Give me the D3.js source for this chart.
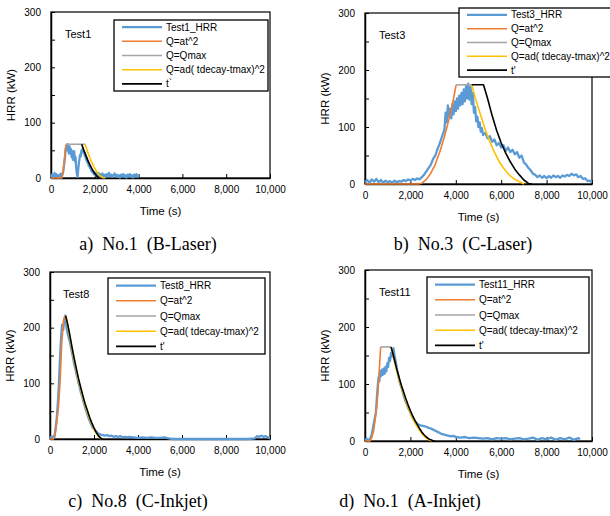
<!DOCTYPE html>
<html>
<head>
<meta charset="utf-8">
<script src="https://cdn.jsdelivr.net/npm/d3@7"></script>
<style>
  body { margin: 0; background: #fff; }
  svg { display: block; }
</style>
</head>
<body>
<div id="container"></div>
<script>
let w = 610;
let h = 516;

// ---- data (time in s, HRR in kW) ----
let xTicks = [0, 2000, 4000, 6000, 8000, 10000];
let yTicks = [0, 100, 200, 300];
let legendNames = ["_HRR", "Q=at^2", "Q=Qmax", "Q=ad( tdecay-tmax)^2"];

let test1Hrr = [[0,2],[40,6],[80,1],[120,4],[160,9],[200,3],[240,7],[280,2],[320,5],[360,1],[400,4],[440,8],[480,3],[520,6],[560,12],[600,25],[640,38],[670,52],[700,58],[730,50],[760,61],[790,54],[820,44],[850,57],[880,45],[910,52],[940,38],[970,49],[1000,33],[1030,44],[1060,48],[1090,30],[1120,38],[1150,18],[1180,8],[1210,2],[1240,14],[1270,26],[1300,35],[1330,42],[1360,39],[1390,50],[1420,47],[1450,54],[1480,46],[1510,48],[1540,40],[1570,42],[1600,33],[1630,36],[1660,28],[1690,30],[1720,22],[1750,24],[1780,18],[1810,20],[1840,13],[1870,15],[1900,10],[1930,12],[1960,7],[1990,10],[2020,6],[2050,9],[2080,4],[2110,8],[2140,5],[2170,9],[2200,3],[2250,7],[2300,4],[2350,8],[2400,3],[2450,6],[2500,2],[2550,7],[2600,4],[2650,9],[2700,3],[2750,6],[2800,2],[2850,5],[2900,8],[2950,3],[3000,6],[3050,2],[3100,5],[3150,1],[3200,6],[3250,3],[3300,7],[3350,2],[3400,5],[3450,1],[3500,6],[3550,3],[3600,7],[3650,2],[3700,5],[3750,1],[3800,6],[3850,3],[3900,7],[3950,2],[4000,4]];
let test1Grow = [[0,0],[490,0],[520,5],[560,14],[600,28],[640,44],[685,61]];
let test1Max = [[685,61],[1552,61]];
let test1Decay = [[1552,61],[1650,50],[1750,39],[1850,29],[1950,21],[2050,14],[2150,8],[2250,4],[2350,1],[2466,0]];
let test1Shift = [[1400,61],[1500,50],[1600,40],[1700,30],[1800,22],[1900,14],[2000,8],[2100,3],[2207,0]];

let test3Hrr = [[0,3],[100,7],[200,2],[300,8],[400,4],[500,9],[600,3],[700,7],[800,2],[900,6],[1000,3],[1100,5],[1200,2],[1300,6],[1400,3],[1500,5],[1600,4],[1700,7],[1800,5],[1900,8],[2000,6],[2100,9],[2200,7],[2300,10],[2400,8],[2500,12],[2600,16],[2700,22],[2800,28],[2900,34],[3000,44],[3100,50],[3200,62],[3300,72],[3400,84],[3500,96],[3550,125],[3600,108],[3650,138],[3700,118],[3750,132],[3800,115],[3850,140],[3900,122],[3950,145],[4000,128],[4050,150],[4100,132],[4150,155],[4200,138],[4250,160],[4300,140],[4350,166],[4400,145],[4450,172],[4500,150],[4550,176],[4600,148],[4650,170],[4700,140],[4750,160],[4800,125],[4850,135],[4900,110],[4950,118],[5000,100],[5050,108],[5100,92],[5150,98],[5200,86],[5300,90],[5400,80],[5500,84],[5600,74],[5700,78],[5800,68],[5900,72],[6000,64],[6100,68],[6200,58],[6300,64],[6400,56],[6500,60],[6600,52],[6700,56],[6800,46],[6900,50],[7000,38],[7100,34],[7200,28],[7300,24],[7400,18],[7500,16],[7600,12],[7700,15],[7800,11],[7900,14],[8000,10],[8100,14],[8200,11],[8300,15],[8400,12],[8500,14],[8600,11],[8700,15],[8800,13],[8900,16],[9000,14],[9100,18],[9200,15],[9300,17],[9400,12],[9500,14],[9600,9],[9700,10],[9800,5],[9900,6],[10000,3]];
let test3Grow = [[0,0],[2350,0],[2500,1.4],[2700,7.7],[2900,19],[3100,35],[3300,57],[3500,83],[3700,114],[3900,150],[4015,174]];
let test3Max = [[4015,174],[4700,174]];
let test3Decay = [[4700,174],[4900,145],[5100,120],[5300,95],[5500,74],[5700,56],[5900,40],[6100,28],[6300,18],[6500,11],[6700,6],[6850,3],[7000,0]];
let test3Shift = [[4700,174],[5220,174],[5400,150],[5600,120],[5800,94],[6000,72],[6200,54],[6400,39],[6600,26],[6800,16],[7000,7],[7200,1],[7350,0]];

let test8Hrr = [[0,1],[50,4],[100,2],[150,5],[200,3],[250,18],[300,35],[350,60],[400,95],[450,140],[500,180],[550,205],[600,196],[650,215],[700,222],[750,200],[800,190],[850,182],[900,175],[950,165],[1000,155],[1050,146],[1100,134],[1150,127],[1200,117],[1250,110],[1300,100],[1350,93],[1400,84],[1450,78],[1500,70],[1550,63],[1600,56],[1650,50],[1700,44],[1750,38],[1800,33],[1850,28],[1900,24],[1950,20],[2000,18],[2050,15],[2100,14],[2150,11],[2200,10],[2300,8],[2400,7],[2500,6],[2600,7],[2700,5],[2800,6],[2900,4],[3000,5],[3100,4],[3200,5],[3300,3],[3400,4],[3500,3],[3600,4],[3800,3],[4000,2],[4200,3],[4400,2],[4600,3],[4800,2],[5000,2],[5200,3],[5400,1],[5600,0],[6000,0],[7000,0],[8000,0],[9000,0],[9300,1],[9400,5],[9500,4],[9600,6],[9700,4],[9800,5],[9900,3],[10000,1]];
let test8Grow = [[0,0],[150,0],[230,8],[300,28],[380,55],[455,100],[530,170],[610,212],[680,221]];
let test8Max = [[680,221],[713,221]];
let test8Decay = [[713,221],[800,204],[900,183],[1000,161],[1100,141],[1200,122],[1300,104],[1400,88],[1500,73],[1600,59],[1700,47],[1800,36],[1900,26],[2000,17],[2100,10],[2200,5],[2300,1],[2340,0]];
let test8Shift = [[713,221],[800,207],[900,187],[1000,165],[1100,145],[1200,126],[1300,108],[1400,92],[1500,77],[1600,63],[1700,51],[1800,39],[1900,29],[2000,20],[2100,12],[2200,6],[2300,2],[2380,0]];

let test11Hrr = [[0,2],[80,4],[160,1],[240,5],[300,12],[360,25],[420,38],[480,50],[530,80],[570,100],[600,112],[630,105],[660,122],[700,114],[740,125],[780,116],[820,127],[860,118],[900,130],[940,122],[980,136],[1020,130],[1060,146],[1100,140],[1150,155],[1200,148],[1250,163],[1300,150],[1350,140],[1400,128],[1450,118],[1500,108],[1550,100],[1600,95],[1650,88],[1700,80],[1750,74],[1800,68],[1850,64],[1900,58],[1950,54],[2000,50],[2050,45],[2100,41],[2150,37],[2200,34],[2250,32],[2300,30],[2350,29],[2400,28],[2500,27],[2600,26],[2700,25],[2800,23],[2900,22],[3000,20],[3100,18],[3200,16],[3300,14],[3400,12],[3500,11],[3600,10],[3700,9],[3800,8],[3900,9],[4000,7],[4200,6],[4400,7],[4600,5],[4800,6],[5000,5],[5200,4],[5400,5],[5600,3],[5800,5],[6000,4],[6200,5],[6400,3],[6600,4],[6800,5],[7000,3],[7200,4],[7400,6],[7600,2],[7800,5],[8000,3],[8200,6],[8400,2],[8600,5],[8800,3],[9000,6],[9200,2],[9400,5],[9470,3]];
let test11Grow = [[0,0],[220,0],[300,6],[380,18],[450,38],[520,62],[580,92],[630,125],[690,165]];
let test11Max = [[690,165],[1145,165]];
let test11Decay = [[1145,165],[1200,156],[1300,139],[1400,123],[1500,108],[1600,95],[1700,82],[1800,70],[1900,59],[2000,49],[2100,40],[2200,32],[2300,25],[2400,19],[2500,13],[2600,9],[2700,5],[2800,2.5],[2900,0.8],[2940,0]];
let test11Shift = [[1145,165],[1200,158],[1300,142],[1400,126],[1500,112],[1600,98],[1700,86],[1800,74],[1900,63],[2000,53],[2100,44],[2200,36],[2300,29],[2400,22],[2500,16],[2600,11],[2700,7],[2800,4],[2900,2],[3000,0.5],[3084,0]];

let seriesColors = ["#5b9bd5", "#ed7d31", "#a5a5a5", "#ffc000", "#000000"];
let seriesWidths = [2.3, 1.6, 1.6, 1.6, 1.6];

// ---- panel layout ----
let panels = [
  {name: "Test1", series: [test1Hrr, test1Grow, test1Max, test1Decay, test1Shift], tLabel: "t`",
   box: [51, 270, 12, 178], leg: [114, 268, 20, 91], caption: "a)  No.1  (B-Laser)", capX: 148, capY: 250},
  {name: "Test3", series: [test3Hrr, test3Grow, test3Max, test3Decay, test3Shift], tLabel: "t'",
   box: [365, 592, 13, 184], leg: [459, 616, 8, 77], caption: "b)  No.3  (C-Laser)", capX: 463, capY: 250},
  {name: "Test8", series: [test8Hrr, test8Grow, test8Max, test8Decay, test8Shift], tLabel: "t'",
   box: [50, 270, 272, 439], leg: [108, 265, 278, 354], caption: "c)  No.8  (C-Inkjet)", capX: 138, capY: 507},
  {name: "Test11", series: [test11Hrr, test11Grow, test11Max, test11Decay, test11Shift], tLabel: "t'",
   box: [365, 592, 270, 441], leg: [427, 589, 277, 353], caption: "d)  No.1  (A-Inkjet)", capX: 410, capY: 507}
];

let viz = d3.select("#container").append("svg")
  .attr("width", w)
  .attr("height", h)
  .style("background-color", "white");

panels.forEach(drawPanel);

function drawPanel(p){
  let [x0, x1, y0, y1] = p.box;
  let xScale = d3.scaleLinear().domain([0, 10000]).range([x0, x1]);
  let yScale = d3.scaleLinear().domain([0, 300]).range([y1, y0]);
  let g = viz.append("g");

  // frame
  g.append("rect").attr("x", x0).attr("y", y0).attr("width", x1 - x0).attr("height", y1 - y0)
    .attr("fill", "none").attr("stroke", "#000").attr("stroke-width", 1.2);

  // axes, ticks pointing inward
  let xAxis = d3.axisBottom(xScale).tickValues(xTicks).tickSizeInner(-4).tickSizeOuter(0)
    .tickPadding(8).tickFormat(d3.format(","));
  let xAxisGroup = g.append("g").attr("transform", "translate(0," + y1 + ")").call(xAxis);
  let yAxis = d3.axisLeft(yScale).tickValues(d3.range(0, 301, 50)).tickSizeInner(-4).tickSizeOuter(0)
    .tickPadding(10).tickFormat(d => yTicks.includes(d) ? d : "");
  let yAxisGroup = g.append("g").attr("transform", "translate(" + x0 + ",0)").call(yAxis);
  [xAxisGroup, yAxisGroup].forEach(a => {
    a.select(".domain").attr("stroke-width", 1.5);
    a.selectAll("text").attr("font-family", "Liberation Sans, Arial, sans-serif").attr("font-size", 10).attr("fill", "#000");
  });

  // series lines
  let line = d3.line().x(d => xScale(d[0])).y(d => yScale(d[1]));
  p.series.forEach((s, i) => {
    g.append("path").datum(s).attr("d", line).attr("fill", "none")
      .attr("stroke", seriesColors[i]).attr("stroke-width", seriesWidths[i]).attr("stroke-linejoin", "round");
  });

  // axis titles
  g.append("text").attr("x", (x0 + x1) / 2).attr("y", y1 + 37).attr("text-anchor", "middle")
    .attr("font-family", "Liberation Sans, Arial, sans-serif").attr("font-size", 11.5).text("Time (s)");
  g.append("text").attr("transform", "translate(" + (x0 - 36) + "," + ((y0 + y1) / 2) + ") rotate(-90)")
    .attr("text-anchor", "middle").attr("font-family", "Liberation Sans, Arial, sans-serif")
    .attr("font-size", 11.5).text("HRR (kW)");

  // test name
  g.append("text").attr("x", x0 + (p.name == "Test8" ? 13 : 14)).attr("y", y0 + 26)
    .attr("font-family", "Liberation Sans, Arial, sans-serif").attr("font-size", 11).text(p.name);

  // legend
  let [lx0, lx1, ly0, ly1] = p.leg;
  let leg = g.append("g");
  leg.append("rect").attr("x", lx0).attr("y", ly0).attr("width", lx1 - lx0).attr("height", ly1 - ly0)
    .attr("fill", "white").attr("stroke", "#000").attr("stroke-width", 1.3);
  let labels = [p.name + legendNames[0], legendNames[1], legendNames[2], legendNames[3], p.tLabel];
  let rowH = (ly1 - ly0) / 5;
  labels.forEach((lab, i) => {
    let ry = ly0 + rowH * (i + 0.5);
    leg.append("line").attr("x1", lx0 + 8).attr("x2", lx0 + 48).attr("y1", ry).attr("y2", ry)
      .attr("stroke", seriesColors[i]).attr("stroke-width", seriesWidths[i]);
    leg.append("text").attr("x", lx0 + 52).attr("y", ry + 3.5)
      .attr("font-family", "Liberation Sans, Arial, sans-serif").attr("font-size", 10).text(lab);
  });

  // caption
  viz.append("text").attr("x", p.capX).attr("y", p.capY).attr("text-anchor", "middle")
    .style("white-space", "pre")
    .attr("font-family", "Liberation Serif, Times New Roman, serif").attr("font-size", 18).text(p.caption);
}
</script>
</body>
</html>
